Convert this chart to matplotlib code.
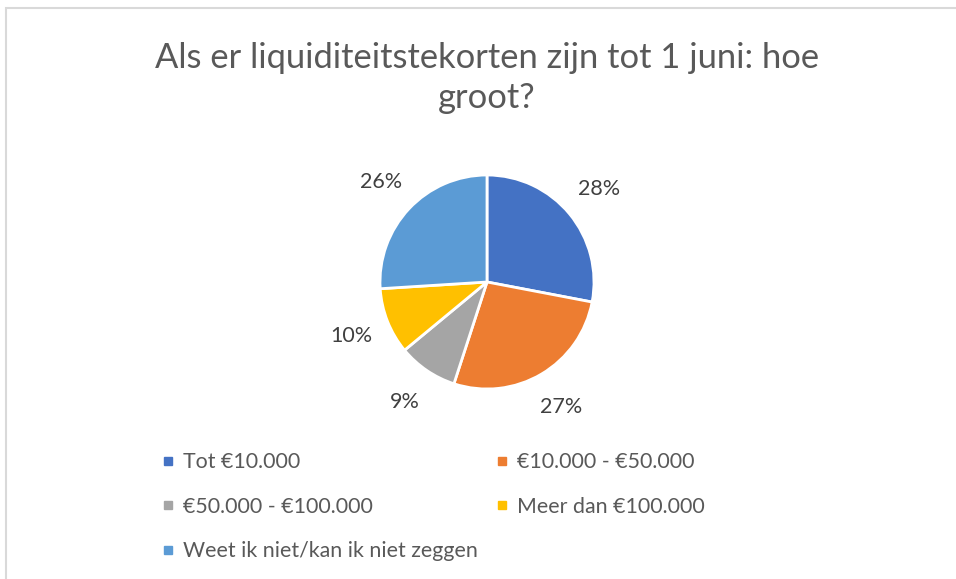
import matplotlib
matplotlib.use("Agg")
import matplotlib.pyplot as plt
from matplotlib.lines import Line2D
from matplotlib.patches import Rectangle

plt.rcParams['font.family'] = ['Lato', 'DejaVu Sans']

title = "Als er liquiditeitstekorten zijn tot 1 juni: hoe\ngroot?"
categories = ["Tot €10.000", "€10.000 - €50.000", "€50.000 - €100.000",
              "Meer dan €100.000", "Weet ik niet/kan ik niet zeggen"]
values = [28, 27, 9, 10, 26]
colors = ["#4472C4", "#ED7D31", "#A5A5A5", "#FFC000", "#5B9BD5"]

W, H = 956, 579
fig = plt.figure(figsize=(W / 100, H / 100), dpi=100)
fig.patch.set_facecolor("white")

# chart border
fig.add_artist(Rectangle((6 / W, -0.01), 1.0, 1 - 8 / H + 0.01, transform=fig.transFigure,
                         fill=False, edgecolor="#D9D9D9", linewidth=1.5))

cx, cy, r = 487, 282, 107
ax = fig.add_axes([(cx - r) / W, 1 - (cy + r) / H, 2 * r / W, 2 * r / H])
wedges, texts, autotexts = ax.pie(values, colors=colors, startangle=90, counterclock=False,
                                  autopct=lambda p: f"{p:.0f}%", pctdistance=1.36,
                                  wedgeprops=dict(edgecolor="white", linewidth=2),
                                  textprops=dict(color="#404040", fontsize=15.5))
ax.set_xlim(-1, 1)
ax.set_ylim(-1, 1)
ax.set_aspect("equal")
ax.axis("off")

fig.text(cx / W, 1 - 78 / H, title, ha="center", va="center", fontsize=24.8,
         color="#595959", linespacing=1.3)

order = [0, 2, 4, 1, 3]
handles = [Line2D([], [], marker="s", linestyle="none", markersize=6,
                  markerfacecolor=colors[i], markeredgecolor=colors[i]) for i in order]
labels = [categories[i] for i in order]
leg = fig.legend(handles, labels, ncol=2, loc="upper left",
                 bbox_to_anchor=(162 / W, 1 - 452 / H), frameon=False,
                 fontsize=15.4, labelcolor="#595959", handlelength=0.6, handletextpad=0.4,
                 columnspacing=0.8, labelspacing=1.15, borderaxespad=0, borderpad=0)

fig.savefig("out.png", dpi=100)
